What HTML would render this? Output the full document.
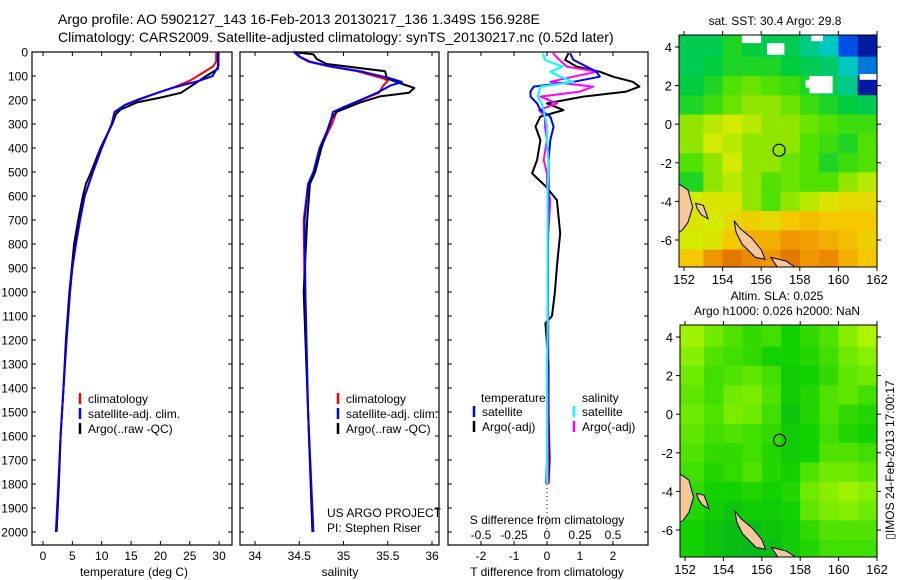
<!DOCTYPE html>
<html><head><meta charset="utf-8">
<style>
html,body{margin:0;padding:0;background:#fff;}
svg{display:block;font-family:"Liberation Sans",sans-serif;}
text{fill:#000;}
</style></head>
<body>
<svg id="fig" width="900" height="580" viewBox="0 0 900 580" xmlns="http://www.w3.org/2000/svg">
<g id="titles">
<text x="58" y="24" font-size="14" text-anchor="start">Argo profile: AO 5902127_143 16-Feb-2013 20130217_136 1.349S 156.928E</text>
<text x="58" y="42" font-size="14" text-anchor="start">Climatology: CARS2009. Satellite-adjusted climatology: synTS_20130217.nc (0.52d later)</text>
<text x="775" y="25" font-size="12" text-anchor="middle">sat. SST: 30.4 Argo: 29.8</text>
<text x="777" y="300" font-size="12" text-anchor="middle">Altim. SLA: 0.025</text>
<text x="777" y="315" font-size="12" text-anchor="middle">Argo h1000: 0.026 h2000: NaN</text>
<text x="0" y="0" font-size="12" text-anchor="middle" transform="translate(894,460) rotate(-90)">▯IMOS 24-Feb-2013 17:00:17</text>
</g>
<g id="plots"></g>
</svg>
<script>
// ---------- profile data (depth in dbar) ----------
const tempDepthClim = [0,40,60,90,120,150,170,200,220,250,300,400,500,600,700,800,900,1000,1200,1400,1600,1800,1900,2000];
const tempClim      = [29.5,29.5,29.0,27.0,25.0,22.0,19.5,16.2,14.0,12.2,11.7,10.0,8.5,7.1,6.3,5.6,5.0,4.6,4.0,3.5,3.0,2.7,2.5,2.3];
const tempDepthSat  = [0,58,100,120,150,170,200,220,250,300,400,500,600,700,800,900,1000,1200,1400,1600,1800,2000];
const tempSat       = [29.9,29.9,28.9,26.6,22.0,19.5,16.0,14.0,12.2,11.7,10.0,8.5,7.1,6.3,5.6,5.0,4.6,4.0,3.5,3.0,2.6,2.2];
const tempDepthArgo = [0,70,100,130,170,190,210,240,260,300,350,400,450,500,550,600,700,800,900,1000,1200,1400,1600,1800,2000];
const tempArgo      = [29.8,29.8,27.8,26.0,23.5,20.0,16.0,13.2,12.4,11.8,10.8,9.8,9.0,8.2,7.3,6.8,6.0,5.3,4.9,4.5,3.9,3.5,3.0,2.7,2.3];

const salDepthClim = [0,20,40,60,80,110,120,140,170,200,230,250,300,400,500,550,700,1000,1500,1900,2000];
const salClim      = [34.44,34.5,34.6,34.84,35.15,35.45,35.5,35.45,35.4,35.2,35.02,34.92,34.87,34.74,34.67,34.6,34.55,34.56,34.6,34.64,34.65];
const salDepthSat  = [0,20,40,60,80,110,125,140,170,200,230,250,300,400,500,550,700,1000,1500,2000];
const salSat       = [34.44,34.51,34.62,34.85,35.19,35.53,35.66,35.53,35.38,35.19,35.0,34.88,34.85,34.73,34.66,34.6,34.56,34.57,34.6,34.66];
const salDepthArgo = [0,10,30,50,80,110,125,150,170,185,210,250,280,400,500,550,700,1000,1500,2000];
const salArgo      = [34.44,34.66,34.7,34.81,35.47,35.49,35.6,35.8,35.74,35.41,35.19,34.92,34.86,34.75,34.68,34.62,34.59,34.55,34.6,34.65];

const diffDepth = [5,33,61,82,103,124,144,165,186,214,242,269,311,367,450,506,561,617,756,894,1000,1100,1130,1300,1500,1700,1800];
const dTempSat  = [0.7,0.8,1.2,1.5,1.6,0.8,-0.4,-0.5,-0.5,-0.3,-0.2,0.1,0.2,0.1,0.05,0.05,0.05,0.04,0.03,0.03,0.03,0.02,0.02,0.02,0.01,0.0,-0.02];
const dTempArgo = [0.65,0.55,0.9,1.6,2.0,2.6,2.8,2.4,1.1,0.0,0.5,-0.2,-0.35,-0.2,-0.3,-0.45,-0.03,0.3,0.4,0.3,0.24,0.15,-0.05,0.05,0.05,0.08,0.05];
const dSalSat   = [-0.06,-0.03,0.24,0.05,0.2,0.4,-0.1,-0.12,-0.14,-0.08,-0.05,-0.03,0.0,0.0,0.02,0.02,0.01,0.01,0.01,0.01,0.01,0.01,0.01,0.0,0.0,0.0,0.0];
const dSalArgo  = [0.09,0.19,0.3,0.76,0.4,0.05,0.7,0.5,-0.1,0.15,-0.12,-0.03,-0.03,0.0,-0.05,0.0,0.0,0.05,0.02,0.01,0.01,0.02,0.02,0.02,0.02,0.02,0.02];

const depthTicks = [0,100,200,300,400,500,600,700,800,900,1000,1100,1200,1300,1400,1500,1600,1700,1800,1900,2000];
const tempTicks = [0,5,10,15,20,25,30];
const salTicks = [34,34.5,35,35.5,36];
const tdiffTicks = [-2,-1,0,1,2];
const sdiffTickLabels = ["-0.5","-0.25","0","0.25","0.5"];

// ---------- map data ----------
const mapLons = [152,153,154,155,156,157,158,159,160,161];
const mapLats = [4,3,2,1,0,-1,-2,-3,-4,-5,-6,-7];
const sstRows = [
 [0.40,0.40,0.45,0.42,0.40,0.40,0.35,0.30,0.15,0.05],
 [0.40,0.42,0.45,0.45,0.45,0.42,0.40,0.38,0.30,0.20],
 [0.42,0.45,0.50,0.52,0.50,0.48,0.45,0.40,0.35,0.05],
 [0.45,0.48,0.52,0.55,0.55,0.52,0.48,0.45,0.42,0.40],
 [0.55,0.58,0.60,0.58,0.55,0.55,0.52,0.50,0.48,0.48],
 [0.55,0.60,0.58,0.55,0.55,0.55,0.50,0.48,0.45,0.50],
 [0.50,0.55,0.60,0.55,0.55,0.52,0.50,0.45,0.48,0.50],
 [0.45,0.55,0.58,0.55,0.50,0.52,0.50,0.50,0.55,0.58],
 [0.60,0.62,0.62,0.55,0.50,0.55,0.58,0.62,0.65,0.65],
 [0.62,0.60,0.65,0.68,0.65,0.70,0.72,0.70,0.70,0.70],
 [0.60,0.62,0.70,0.75,0.75,0.80,0.78,0.75,0.72,0.68],
 [0.70,0.80,0.85,0.82,0.80,0.85,0.80,0.82,0.75,0.70]];
const slaRows = [
 [0.80,0.60,0.50,0.40,0.45,0.30,0.40,0.50,0.70,0.85],
 [0.70,0.50,0.45,0.40,0.30,0.30,0.35,0.45,0.60,0.70],
 [0.60,0.45,0.50,0.55,0.45,0.25,0.30,0.40,0.55,0.60],
 [0.55,0.45,0.60,0.65,0.50,0.25,0.35,0.50,0.55,0.45],
 [0.60,0.50,0.65,0.60,0.45,0.20,0.35,0.50,0.40,0.35],
 [0.55,0.45,0.50,0.45,0.40,0.25,0.30,0.45,0.35,0.30],
 [0.50,0.40,0.40,0.45,0.35,0.25,0.30,0.50,0.50,0.45],
 [0.45,0.35,0.40,0.50,0.35,0.30,0.50,0.60,0.60,0.55],
 [0.40,0.30,0.30,0.35,0.30,0.35,0.60,0.70,0.80,0.70],
 [0.35,0.25,0.20,0.25,0.25,0.30,0.55,0.65,0.70,0.60],
 [0.30,0.20,0.15,0.15,0.20,0.25,0.40,0.50,0.50,0.50],
 [0.30,0.20,0.15,0.10,0.15,0.25,0.35,0.45,0.45,0.45]];
const lonTicks = [152,154,156,158,160,162];
const latTicks = [4,2,0,-2,-4,-6];
const argoLon = 156.928, argoLat = -1.349;

const NS = "http://www.w3.org/2000/svg";
const root = document.getElementById('plots');
function mk(tag, attrs, parent){ const e=document.createElementNS(NS,tag); for(const k in attrs) e.setAttribute(k,attrs[k]); (parent||root).appendChild(e); return e; }
function txt(s,x,y,size,anchor,parent){ const t=mk('text',{x:x,y:y,'font-size':size,'text-anchor':anchor||'middle'},parent); t.textContent=s; return t; }

// ---------- profile panels ----------
const top0=52, depthScale=0.24, boxBottom=545;
const yD = d => top0 + d*depthScale;
const xT = v => 43 + v*5.87;
const xS = v => 255 + (v-34)*88.5;
const xTd = v => 547 + v*33;
const xSd = v => 547 + v*66;

function panel(name,x0,x1){
  const g=mk('g',{});  
  mk('rect',{x:x0,y:top0,width:x1-x0,height:boxBottom-top0,fill:'none',stroke:'#000','stroke-width':1.2},g);
  return g;
}
function line(g,xs,ds,fx,color,w,name){
  const p=xs.map((v,i)=>fx(v).toFixed(1)+','+yD(ds[i]).toFixed(1)).join(' ');
  const pl=mk('polyline',{points:p,fill:'none',stroke:color,'stroke-width':w,'stroke-linejoin':'round'},g);
  
  
}
function xticks(g,vals,fx,labels,ly){
  vals.forEach((v,i)=>{
    const x=fx(v);
    mk('line',{x1:x,x2:x,y1:boxBottom,y2:boxBottom-4,stroke:'#000'},g);
    mk('line',{x1:x,x2:x,y1:top0,y2:top0+4,stroke:'#000'},g);
    const t=txt(labels?labels[i]:String(v),x,ly,12,'middle',g);
    
    
  });
}
function yticks(g,x0,x1,withLabels){
  depthTicks.forEach(d=>{
    const y=yD(d);
    mk('line',{x1:x0,x2:x0+4,y1:y,y2:y,stroke:'#000'},g);
    mk('line',{x1:x1,x2:x1-4,y1:y,y2:y,stroke:'#000'},g);
    if(withLabels){
      const t=txt(String(d),28,y+4.5,12,'end',g);
      
      
    }
  });
}
function legendItem(g,x,y,color,label,name){
  mk('line',{x1:x,x2:x,y1:y-10,y2:y+1,stroke:color,'stroke-width':2.5},g);
  const t=txt(label,x+8,y,12,'start',g);
  
  
}

// Panel 1: temperature
const g1=panel('temperature-panel',32,232);
yticks(g1,32,232,true);
xticks(g1,tempTicks,xT,null,560);
line(g1,tempClim,tempDepthClim,xT,'#ff0000',2,'temp-climatology-line');
line(g1,tempArgo,tempDepthArgo,xT,'#000000',2,'temp-argo-line');
line(g1,tempSat,tempDepthSat,xT,'#0000ff',2,'temp-satellite-line');
const a1=txt('temperature (deg C)',134,576,12,'middle',g1);  
legendItem(g1,80,403,'#ff0000','climatology','legend-climatology');
legendItem(g1,80,418,'#0000ff','satellite-adj. clim.','legend-satellite-adj');
legendItem(g1,80,433,'#000000','Argo(..raw -QC)','legend-argo');

// Panel 2: salinity
const g2=panel('salinity-panel',240,439);
yticks(g2,240,439,false);
xticks(g2,salTicks,xS,null,560);
line(g2,salClim,salDepthClim,xS,'#ff0000',2,'sal-climatology-line');
line(g2,salArgo,salDepthArgo,xS,'#000000',2,'sal-argo-line');
line(g2,salSat,salDepthSat,xS,'#0000ff',2,'sal-satellite-line');
const a2=txt('salinity',340,576,12,'middle',g2);  
legendItem(g2,338,403,'#ff0000','climatology','legend-climatology-2');
legendItem(g2,338,418,'#0000ff','satellite-adj. clim.','legend-satellite-adj-2');
legendItem(g2,338,433,'#000000','Argo(..raw -QC)','legend-argo-2');
const c1=txt('US ARGO PROJECT',327,517,12,'start',g2);  
const c2=txt('PI: Stephen Riser',327,532,12,'start',g2);  

// Panel 3: differences
const g3=panel('difference-panel',448,648);
yticks(g3,448,648,false);
xticks(g3,tdiffTicks,xTd,null,560);
tdiffTicks.forEach((v,i)=>{ const t=txt(sdiffTickLabels[i],xTd(v),539,12,'middle',g3);   });
const sdt=txt('S difference from climatology',547,524,12,'middle',g3);  
const tdt=txt('T difference from climatology',547,576,12,'middle',g3);  
mk('line',{x1:xTd(0),x2:xTd(0),y1:yD(1800),y2:yD(2000),stroke:'#000','stroke-dasharray':'1,3'},g3);
line(g3,dTempArgo,diffDepth,xTd,'#000000',2,'t-diff-argo-line');
line(g3,dSalArgo,diffDepth,xSd,'#ff00ff',2,'s-diff-argo-line');
line(g3,dTempSat,diffDepth,xTd,'#0000ff',2,'t-diff-satellite-line');
line(g3,dSalSat,diffDepth,xSd,'#00ffff',2,'s-diff-satellite-line');
const lt1=txt('temperature',481,402,12,'start',g3);  
const lt2=txt('salinity',582,402,12,'start',g3);  
legendItem(g3,474,416,'#0000ff','satellite','legend-t-satellite');
legendItem(g3,474,431,'#000000','Argo(-adj)','legend-t-argo');
legendItem(g3,574,416,'#00ffff','satellite','legend-s-satellite');
legendItem(g3,574,431,'#ff00ff','Argo(-adj)','legend-s-argo');

// ---------- maps ----------
function lerpColor(stops,v){
  v=Math.max(0,Math.min(1,v));
  for(let i=1;i<stops.length;i++){
    if(v<=stops[i][0]){
      const a=stops[i-1],b=stops[i],f=(v-a[0])/(b[0]-a[0]);
      const c=[0,1,2].map(k=>Math.round(a[1][k]+(b[1][k]-a[1][k])*f));
      return 'rgb('+c.join(',')+')';
    }
  }
  const l=stops[stops.length-1][1]; return 'rgb('+l.join(',')+')';
}
const sstStops=[[0,[0,0,128]],[0.15,[0,80,230]],[0.3,[0,200,190]],[0.42,[0,205,60]],[0.5,[80,225,0]],[0.6,[210,235,0]],[0.7,[245,200,0]],[0.8,[240,150,0]],[0.9,[210,90,0]],[1,[180,50,0]]];
const slaStops=[[0,[0,170,40]],[0.3,[20,210,0]],[0.6,[110,235,0]],[1,[210,250,0]]];

function drawMap(name,x0,x1,yTop,yBot,lat4y,latm6y,rows,stops,nanCells){
  const g=mk('g',{});  
  const px=(x1-x0)/(162-151.74);
  const fx=lon=>x0+(lon-151.74)*px;
  const py=(latm6y-lat4y)/10;
  const fy=lat=>lat4y+(4-lat)*py;
  const cp='clip-'+name;
  const cl=mk('clipPath',{id:cp},g); mk('rect',{x:x0,y:yTop,width:x1-x0,height:yBot-yTop},cl);
  const inner=mk('g',{'clip-path':'url(#'+cp+')'},g);
  rows.forEach((row,r)=>{
    row.forEach((v,c)=>{
      const lat=mapLats[r], lon=mapLons[c];
      const xa=c===0?x0:fx(lon), xb=fx(lon+1);
      const ya=r===0?yTop:fy(lat+0.5), yb=r===rows.length-1?yBot:fy(lat-0.5);
      const cell=mk('rect',{x:xa,y:ya,width:xb-xa+0.5,height:yb-ya+0.5,fill:lerpColor(stops,v)},inner);
      
      
    });
  });
  (nanCells||[]).forEach(n=>{ mk('rect',{x:fx(n[0]),y:fy(n[1]),width:(n[2]-n[0])*px,height:(n[1]-n[3])*py,fill:'#fff'},inner); });
  const lands=[
    [[151.74,-3.1],[152.2,-3.4],[152.45,-4.3],[152.2,-5.1],[151.9,-5.5],[151.74,-5.6]],
    [[152.6,-4.1],[153.0,-4.2],[153.25,-4.9],[152.9,-4.7],[152.7,-4.4]],
    [[154.6,-5.0],[154.9,-5.4],[155.5,-5.9],[156.0,-6.5],[156.2,-7.0],[155.7,-6.9],[155.0,-6.2],[154.7,-5.6]],
    [[156.5,-6.9],[157.3,-7.1],[157.9,-7.5],[156.9,-7.5]]
  ];
  lands.forEach(poly=>{
    const l=mk('polygon',{points:poly.map(p=>fx(p[0]).toFixed(1)+','+fy(p[1]).toFixed(1)).join(' '),fill:'#f5c89a',stroke:'#000','stroke-width':1},inner);
    
    
  });
  const m=mk('circle',{cx:fx(argoLon),cy:fy(argoLat),r:6,fill:'none',stroke:'#000','stroke-width':1.2},g);
  
  
  mk('rect',{x:x0,y:yTop,width:x1-x0,height:yBot-yTop,fill:'none',stroke:'#000','stroke-width':1},g);
  lonTicks.forEach(lon=>{
    const x=fx(lon);
    mk('line',{x1:x,x2:x,y1:yBot,y2:yBot+4,stroke:'#000'},g);
    mk('line',{x1:x,x2:x,y1:yTop,y2:yTop-4,stroke:'#000'},g);
    const t=txt(String(lon),x,yBot+17,13,'middle',g);  
  });
  latTicks.forEach(lat=>{
    const y=fy(lat);
    mk('line',{x1:x0,x2:x0-4,y1:y,y2:y,stroke:'#000'},g);
    mk('line',{x1:x1,x2:x1+4,y1:y,y2:y,stroke:'#000'},g);
    const t=txt(String(lat),x0-7,y+5,13,'end',g);  
  });
}
drawMap('sst-map',679,877,35,267,47,240,sstRows,sstStops,[[155,4.62,156,4.2],[156.3,4.2,157.2,3.6],[158.5,2.5,159.7,1.6],[158.3,2.3,158.6,1.9],[161.1,2.6,162,2.3],[158.6,4.62,159.2,4.3]]);
drawMap('sla-map',680,877,325,557,337,530,slaRows,slaStops,[]);
</script>
</body></html>
